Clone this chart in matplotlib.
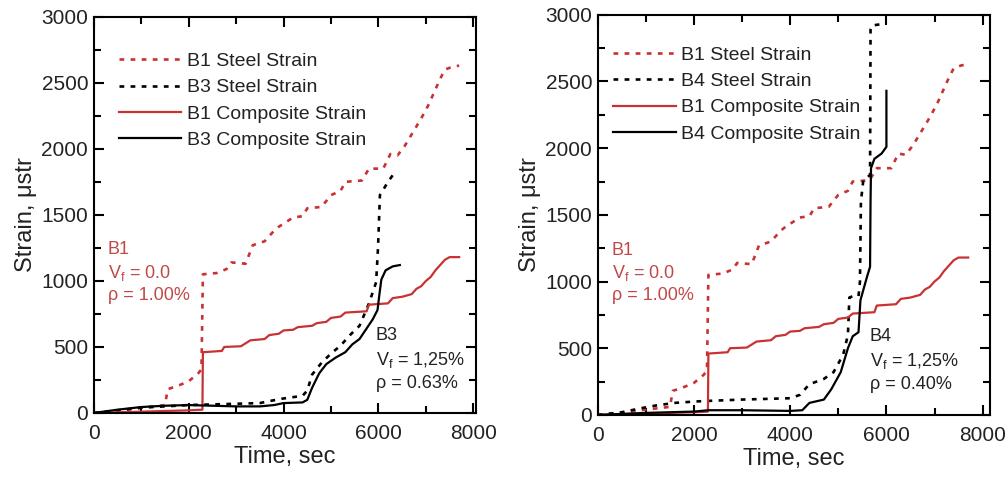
import matplotlib
matplotlib.use("Agg")
import matplotlib.pyplot as plt
from matplotlib.ticker import MultipleLocator

plt.rcParams['font.family'] = ['Liberation Sans', 'DejaVu Sans']
plt.rcParams['mathtext.fontset'] = 'custom'
plt.rcParams['mathtext.rm'] = 'Liberation Sans'
plt.rcParams['mathtext.it'] = 'Liberation Sans'

# B1 (shared by both panels)
b1_steel_t = [0, 500, 1000, 1500, 1560, 1800, 2000, 2200, 2270, 2300, 2600, 2800, 2900, 3200, 3350,
              3600, 3800, 3900, 4200, 4400, 4500, 4800, 5000, 5200, 5300, 5650, 5800, 6100, 6250,
              6400, 6550, 6700, 6900, 7050, 7200, 7300, 7400, 7550, 7700]
b1_steel_s = [0, 15, 40, 60, 180, 210, 240, 300, 330, 1050, 1060, 1090, 1140, 1130, 1270,
              1300, 1380, 1410, 1480, 1490, 1550, 1560, 1650, 1680, 1750, 1760, 1850, 1850, 1960,
              1950, 2020, 2110, 2230, 2330, 2450, 2530, 2600, 2620, 2630]
b1_comp_t = [0, 500, 1000, 1500, 2000, 2290, 2300, 2700, 2750, 3100, 3300, 3600, 3700, 3900, 4000,
             4200, 4300, 4600, 4700, 4900, 5000, 5200, 5300, 5750, 5800, 6200, 6300, 6500, 6700,
             6800, 6900, 7000, 7100, 7200, 7300, 7400, 7500, 7700]
b1_comp_s = [0, 5, 10, 15, 20, 25, 460, 470, 500, 505, 550, 560, 590, 600, 625,
             630, 650, 660, 680, 690, 720, 730, 760, 770, 820, 830, 870, 880, 900,
             940, 960, 1000, 1030, 1080, 1120, 1160, 1180, 1180]

# B3
b3_steel_t = [0, 500, 1000, 1500, 2000, 2500, 3000, 3500, 3700, 4000, 4400, 4500, 4600, 4800, 5000,
              5200, 5400, 5600, 5800, 5950, 5990, 6030, 6100, 6200, 6300, 6400]
b3_steel_s = [0, 20, 40, 50, 60, 65, 70, 75, 90, 110, 130, 170, 290, 380, 450,
              510, 590, 660, 830, 990, 1250, 1650, 1690, 1750, 1800, 1830]
b3_comp_t = [0, 500, 1000, 1500, 2000, 2500, 3000, 3500, 3800, 4000, 4400, 4500, 4600, 4750, 4900,
             5100, 5300, 5450, 5600, 5750, 5880, 5980, 6020, 6060, 6150, 6300, 6450]
b3_comp_s = [0, 25, 45, 55, 60, 55, 50, 50, 60, 75, 80, 100, 190, 300, 370,
             420, 460, 520, 560, 640, 710, 780, 900, 1010, 1080, 1110, 1120]

# B4
b4_steel_t = [0, 500, 900, 1200, 1600, 2000, 2300, 3000, 3500, 4000, 4200, 4400, 4700, 4900, 5100,
              5200, 5230, 5300, 5420, 5450, 5470, 5520, 5600, 5660, 5670, 5700, 5900]
b4_steel_s = [0, 20, 50, 70, 90, 100, 105, 115, 120, 125, 150, 230, 270, 320, 450,
              600, 880, 890, 890, 1000, 1600, 1760, 1780, 1800, 2890, 2920, 2930]
b4_comp_t = [0, 1000, 2000, 2300, 3000, 4000, 4250, 4400, 4700, 4850, 5050, 5200, 5300, 5420,
             5460, 5600, 5660, 5670, 5680, 5750, 5900, 6000, 6000]
b4_comp_s = [0, 15, 25, 35, 35, 30, 35, 90, 115, 190, 320, 500, 590, 620,
             860, 1040, 1110, 1600, 1850, 1920, 1960, 2010, 2430]

red = '#c83232'
txt_red = '#c04848'
ink = '#222222'
dot = (0, (1.8, 2.4))

fig = plt.figure(figsize=(10.08, 4.78), dpi=100)
ax1 = fig.add_axes([0.093, 0.136, 0.379, 0.829])
ax2 = fig.add_axes([0.593, 0.132, 0.389, 0.837])


def panel(ax, name, st_t, st_s, co_t, co_s, xmax, leg_xy, note_xy, note):
    ax.plot(b1_steel_t, b1_steel_s, color=red, ls=dot, lw=1.9, label='B1 Steel Strain')
    ax.plot(st_t, st_s, color='black', ls=dot, lw=1.9, label=name + ' Steel Strain')
    ax.plot(b1_comp_t, b1_comp_s, color=red, lw=1.6, label='B1 Composite Strain')
    ax.plot(co_t, co_s, color='black', lw=1.6, label=name + ' Composite Strain')
    ax.set_xlim(0, xmax)
    ax.set_ylim(0, 3000)
    ax.xaxis.set_major_locator(MultipleLocator(2000))
    ax.xaxis.set_minor_locator(MultipleLocator(1000))
    ax.yaxis.set_major_locator(MultipleLocator(500))
    ax.yaxis.set_minor_locator(MultipleLocator(250))
    ax.tick_params(which='both', direction='in', top=True, right=True, width=1.5,
                   labelsize=15, labelcolor=ink)
    ax.tick_params(axis='x', pad=8)
    ax.tick_params(axis='y', pad=4)
    ax.tick_params(which='major', length=7)
    ax.tick_params(which='minor', length=5)
    for sp in ax.spines.values():
        sp.set_linewidth(1.5)
    ax.set_xlabel('Time, sec', fontsize=17, labelpad=2, color=ink)
    ax.set_ylabel('Strain, \u03bcstr', fontsize=17, labelpad=3, color=ink)
    leg = ax.legend(loc='upper left', bbox_to_anchor=leg_xy, frameon=False, fontsize=14,
                    handlelength=3.2, handletextpad=0.3, labelspacing=0.45,
                    borderaxespad=0, borderpad=0)
    for t in leg.get_texts():
        t.set_color(ink)
    ax.text(290, 1300, 'B1\nV$_\\mathrm{f}$ = 0.0\n\u03c1 = 1.00%', color=txt_red,
            fontsize=13, va='top', ha='left', linespacing=1.3)
    ax.text(note_xy[0], note_xy[1], note, color=ink, fontsize=13,
            va='top', ha='left', linespacing=1.4)


panel(ax1, 'B3', b3_steel_t, b3_steel_s, b3_comp_t, b3_comp_s, 8050, (0.065, 0.91),
      (5940, 650), 'B3\nV$_\\mathrm{f}$ = 1,25%\n\u03c1 = 0.63%')
panel(ax2, 'B4', b4_steel_t, b4_steel_s, b4_comp_t, b4_comp_s, 8150, (0.04, 0.922),
      (5650, 650), 'B4\nV$_\\mathrm{f}$ = 1,25%\n\u03c1 = 0.40%')

fig.savefig('out.png', dpi=100)
